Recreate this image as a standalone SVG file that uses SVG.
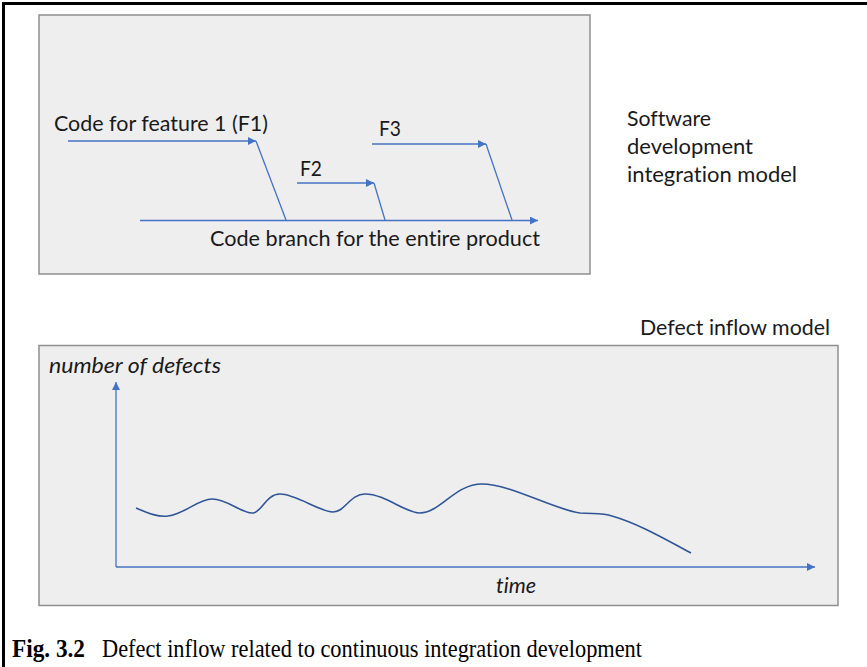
<svg xmlns="http://www.w3.org/2000/svg" width="867" height="667" viewBox="0 0 867 667">
<style>
.box{fill:#eeeeee;stroke:#8f8f8f;stroke-width:1.5}
.ln{fill:none;stroke:#4472c4;stroke-width:1.3}
.crv{fill:none;stroke:#2f5597;stroke-width:1.6}
.lbl{font-family:Lato,"Open Sans",sans-serif;font-size:21.5px;fill:#1a1a1a;font-variant-ligatures:none;font-feature-settings:"liga" 0,"dlig" 0}
.it{font-style:italic}
.cap{font-family:"Liberation Serif",serif;font-size:25px;fill:#000}
</style>
<defs>
<marker id="ah" viewBox="0 0 10 10" refX="10" refY="5" markerWidth="10" markerHeight="8" markerUnits="userSpaceOnUse" orient="auto">
<path d="M0,0 L10,5 L0,10 z" fill="#4472c4"/>
</marker>
</defs>
<rect width="867" height="667" fill="#ffffff"/>
<g id="frame">
<line x1="2" y1="3.5" x2="867" y2="3.5" stroke="#000" stroke-width="3"/>
<line x1="3.5" y1="2" x2="3.5" y2="667" stroke="#000" stroke-width="3"/>
</g>
<g id="integration-model">
<rect class="box" x="39" y="15" width="551" height="259"/>
<text class="lbl" x="54" y="131" textLength="214" lengthAdjust="spacingAndGlyphs">Code for feature 1 (F1)</text>
<text class="lbl" x="300" y="176" textLength="22" lengthAdjust="spacingAndGlyphs">F2</text>
<text class="lbl" x="379" y="136" textLength="22" lengthAdjust="spacingAndGlyphs">F3</text>
<text class="lbl" x="210" y="246" textLength="330" lengthAdjust="spacingAndGlyphs">Code branch for the entire product</text>
</g>
<g id="integration-title">
<text class="lbl" x="627" y="126" textLength="84" lengthAdjust="spacingAndGlyphs">Software</text>
<text class="lbl" x="627" y="154" textLength="126" lengthAdjust="spacingAndGlyphs">development</text>
<text class="lbl" x="627" y="182" textLength="170" lengthAdjust="spacingAndGlyphs">integration model</text>
</g>
<g id="defect-title">
<text class="lbl" x="640" y="335" textLength="190" lengthAdjust="spacingAndGlyphs">Defect inflow model</text>
</g>
<g id="defect-model">
<rect class="box" x="39" y="345.5" width="799" height="260"/>
<text class="lbl it" x="49" y="373" textLength="172" lengthAdjust="spacingAndGlyphs">number of defects</text>
<text class="lbl it" x="496" y="593" textLength="40" lengthAdjust="spacingAndGlyphs">time</text>
</g>
<g id="connectors">
<line class="ln" x1="68" y1="141" x2="256" y2="141" marker-end="url(#ah)"/>
<line class="ln" x1="256" y1="141" x2="286" y2="220"/>
<line class="ln" x1="297" y1="183" x2="374" y2="183" marker-end="url(#ah)"/>
<line class="ln" x1="374" y1="183" x2="385" y2="220"/>
<line class="ln" x1="372" y1="144" x2="486" y2="144" marker-end="url(#ah)"/>
<line class="ln" x1="486" y1="144" x2="512" y2="220"/>
<line class="ln" x1="140" y1="220.5" x2="538" y2="220.5" marker-end="url(#ah)"/>
<line class="ln" x1="116" y1="567" x2="116" y2="382" marker-end="url(#ah)"/>
<line class="ln" x1="116" y1="567" x2="815" y2="567" marker-end="url(#ah)"/>
<path class="crv" d="M136,508 C150,514 158,517 168,516 C185,514 198,499 212,499 C228,499 242,514 253,513 C262,512 266,494 280,494 C296,494 320,512 333,512 C345,512 350,494 365,494 C385,494 405,513 420,513 C440,513 455,484 482,484 C510,484 555,510 580,513 C595,514 603,513 612,516 C640,524 670,542 691,553"/>
</g>
<g id="caption">
<text class="cap" x="12" y="657" font-weight="bold" textLength="73" lengthAdjust="spacingAndGlyphs">Fig. 3.2</text>
<text class="cap" x="102" y="657" textLength="540" lengthAdjust="spacingAndGlyphs">Defect inflow related to continuous integration development</text>
</g>
</svg>
